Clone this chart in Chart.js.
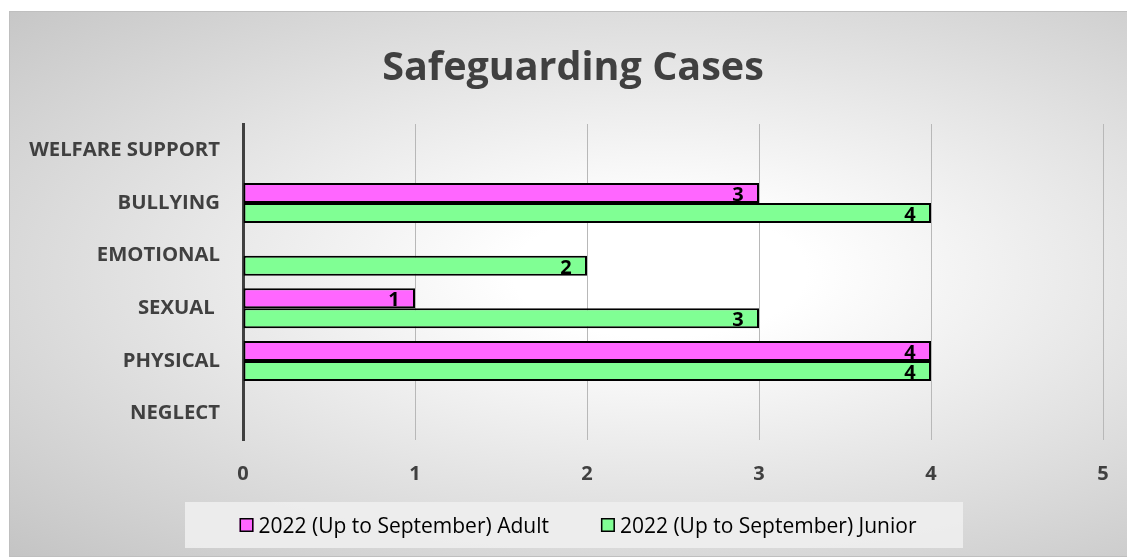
<!DOCTYPE html>
<html>
<head>
<meta charset="utf-8">
<script src="https://cdn.jsdelivr.net/npm/chart.js@4"></script>
<style>
  html, body { margin: 0; padding: 0; background: #fff; }
  #wrap { position: relative; width: 1127px; height: 557px; overflow: hidden; }
  #bg {
    position: absolute; left: 9px; top: 11px; width: 1120px; height: 544px;
    border: 1px solid #bfbfbf;
    background: radial-gradient(ellipse farthest-corner at 58% 48%, #ffffff 0%, #ffffff 16%, #c4c4c4 100%);
  }
  #chart { position: absolute; left: 0; top: 0; }
</style>
</head>
<body>
<div id="wrap">
  <div id="bg"></div>
  <canvas id="chart" width="1127" height="557"></canvas>
</div>
<script>
// chart data
const chartTitle = 'Safeguarding Cases';
const categories = ['WELFARE SUPPORT', 'BULLYING', 'EMOTIONAL', 'SEXUAL ', 'PHYSICAL', 'NEGLECT'];
const adultCases = [0, 3, 0, 1, 4, 0];
const juniorCases = [0, 4, 2, 3, 4, 0];
const seriesNames = ['2022 (Up to September) Adult', '2022 (Up to September) Junior'];
const seriesColors = ['#ff66ff', '#80ff94'];
const xTicks = [0, 1, 2, 3, 4, 5];

const FONT = "'Open Sans', 'DejaVu Sans', sans-serif";
const GREY = '#404040';

// title drawn centred over the whole frame (not just the plot)
const frameTitle = {
  id: 'frameTitle',
  afterDraw(chart) {
    const ctx = chart.ctx;
    ctx.save();
    ctx.font = `bold 39.5px ${FONT}`;
    ctx.fillStyle = GREY;
    ctx.textAlign = 'center';
    ctx.textBaseline = 'alphabetic';
    ctx.fillText(chartTitle, 573, 80);
    ctx.restore();
  }
};

// value labels just inside the end of each bar
const valueLabels = {
  id: 'valueLabels',
  afterDatasetsDraw(chart) {
    const ctx = chart.ctx;
    ctx.save();
    ctx.font = `bold 20px ${FONT}`;
    ctx.fillStyle = '#000';
    ctx.textAlign = 'center';
    ctx.textBaseline = 'alphabetic';
    chart.data.datasets.forEach((ds, i) => {
      chart.getDatasetMeta(i).data.forEach((el, j) => {
        const v = ds.data[j];
        if (!v) return;
        ctx.fillText(String(v), el.x - 21, el.y + 8);
      });
    });
    ctx.restore();
  }
};

// legend with its own light box under the plot
const boxLegend = {
  id: 'boxLegend',
  afterDraw(chart) {
    const ctx = chart.ctx;
    const box = { x: 185, y: 502, w: 778, h: 46 };
    ctx.save();
    ctx.fillStyle = 'rgba(238,238,238,0.9)';
    ctx.fillRect(box.x, box.y, box.w, box.h);
    ctx.font = `21px ${FONT}`;
    ctx.textBaseline = 'alphabetic';
    const sq = 14, gapText = 5, gapItem = 52;
    const widths = chart.data.datasets.map(ds => ctx.measureText(ds.label).width);
    let total = widths.reduce((a, w) => a + sq + gapText + w, 0) + gapItem * (widths.length - 1);
    let x = box.x + (box.w - total) / 2 + 4;
    const cy = box.y + box.h / 2;
    chart.data.datasets.forEach((ds, i) => {
      ctx.fillStyle = ds.backgroundColor;
      ctx.fillRect(x, cy - sq / 2, sq, sq);
      ctx.lineWidth = 1.5;
      ctx.strokeStyle = '#000';
      ctx.strokeRect(x + 0.75, cy - sq / 2 + 0.75, sq - 1.5, sq - 1.5);
      ctx.fillStyle = '#000';
      ctx.fillText(ds.label, x + sq + gapText, cy + 8);
      x += sq + gapText + widths[i] + gapItem;
    });
    ctx.restore();
  }
};

const barBorder = c => (c.raw ? 2 : 0);

new Chart(document.getElementById('chart').getContext('2d'), {
  type: 'bar',
  data: {
    labels: categories,
    datasets: [
      { label: seriesNames[0], data: adultCases, backgroundColor: seriesColors[0],
        borderColor: '#000', borderWidth: barBorder, borderSkipped: false },
      { label: seriesNames[1], data: juniorCases, backgroundColor: seriesColors[1],
        borderColor: '#000', borderWidth: barBorder, borderSkipped: false }
    ]
  },
  options: {
    indexAxis: 'y',
    responsive: false,
    animation: false,
    devicePixelRatio: 1,
    layout: { padding: { left: 0, right: 24, top: 124, bottom: 77 } },
    datasets: { bar: { categoryPercentage: 0.76, barPercentage: 1 } },
    plugins: {
      legend: { display: false },
      tooltip: { enabled: false },
      title: { display: false }
    },
    scales: {
      x: {
        min: 0, max: 5,
        afterBuildTicks: s => { s.ticks = xTicks.map(v => ({ value: v })); },
        afterFit: s => { s.height = 40; s.paddingLeft = 0; s.paddingRight = 0; },
        ticks: { color: GREY, font: { family: FONT, size: 20, weight: 'bold' }, padding: 22 },
        grid: { color: '#b8b8b8', lineWidth: 1, drawTicks: false },
        border: { display: false }
      },
      y: {
        afterFit: s => { s.width = 243; },
        ticks: { color: GREY, font: { family: FONT, size: 20.3, weight: 'bold' }, padding: 23 },
        grid: { display: false, drawTicks: false },
        border: { display: true, color: GREY, width: 3 }
      }
    }
  },
  plugins: [frameTitle, valueLabels, boxLegend]
});
</script>
</body>
</html>
